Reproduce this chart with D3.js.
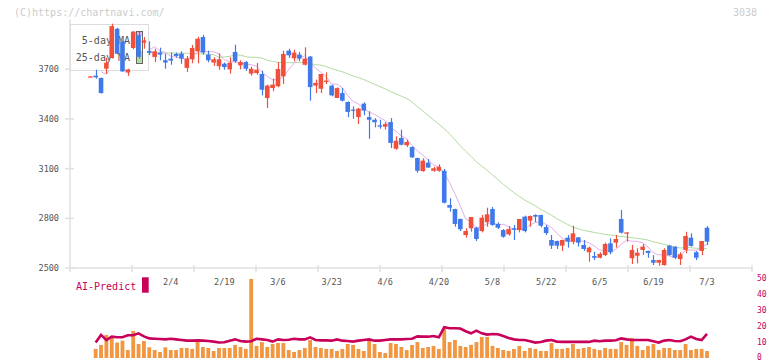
<!DOCTYPE html>
<meta charset="utf-8">
<style>
	body { margin: 0; background: #fff; }
	svg text { font-family: "DejaVu Sans Mono", monospace; }
</style>
<svg width="772" height="361"></svg>
<script src="https://d3js.org/d3.v7.min.js"></script>
<script>
	// date labels, one every 10 sessions counted back from the last candle
	var tickLabels = ['2/4', '2/19', '3/6', '3/23', '4/6', '4/20', '5/8', '5/22', '6/5', '6/19', '7/3']
	var priceTicks = [2500, 2800, 3100, 3400, 3700]
	var volTicks = [0, 10, 20, 30, 40, 50]

	var open = [3654, 3661, 3647, 3703, 3767, 3944, 3868, 3680, 3828, 3905,
		3860, 3810, 3774, 3800, 3754, 3764, 3792, 3794, 3708, 3760,
		3808, 3894, 3788, 3740, 3718, 3733, 3699, 3804, 3723, 3743,
		3673, 3677, 3671, 3526, 3586, 3597, 3657, 3812, 3766, 3788,
		3727, 3776, 3601, 3582, 3623, 3601, 3526, 3556, 3502, 3456,
		3411, 3492, 3411, 3395, 3361, 3353, 3381, 3220, 3285, 3241,
		3230, 3164, 3085, 3136, 3087, 3087, 3087, 2880, 2856, 2796,
		2699, 2740, 2743, 2723, 2776, 2856, 2766, 2729, 2703, 2740,
		2729, 2810, 2786, 2820, 2820, 2747, 2669, 2663, 2635, 2683,
		2659, 2685, 2639, 2595, 2572, 2562, 2578, 2649, 2653, 2796,
		2707, 2559, 2574, 2609, 2603, 2548, 2532, 2518, 2635, 2629,
		2554, 2609, 2683, 2595, 2603, 2743]
	var high = [3658, 3697, 3650, 3768, 3975, 3950, 3872, 3703, 3930, 3925,
		3894, 3868, 3824, 3830, 3794, 3800, 3800, 3808, 3780, 3846,
		3896, 3908, 3812, 3772, 3796, 3740, 3772, 3848, 3754, 3750,
		3715, 3737, 3691, 3607, 3643, 3743, 3812, 3824, 3818, 3804,
		3832, 3780, 3637, 3671, 3681, 3607, 3590, 3586, 3506, 3476,
		3466, 3500, 3446, 3405, 3395, 3381, 3405, 3295, 3335, 3275,
		3234, 3166, 3162, 3158, 3111, 3126, 3098, 2921, 2858, 2798,
		2740, 2808, 2749, 2820, 2864, 2868, 2776, 2735, 2753, 2760,
		2796, 2816, 2816, 2824, 2822, 2760, 2699, 2665, 2671, 2699,
		2755, 2687, 2669, 2629, 2598, 2595, 2653, 2679, 2699, 2850,
		2715, 2639, 2619, 2645, 2605, 2578, 2550, 2619, 2639, 2631,
		2595, 2719, 2709, 2603, 2663, 2753]
	var low = [3652, 3643, 3553, 3673, 3765, 3790, 3684, 3660, 3820, 3765,
		3824, 3785, 3743, 3754, 3703, 3727, 3770, 3733, 3684, 3736,
		3736, 3788, 3742, 3720, 3697, 3697, 3673, 3739, 3699, 3690,
		3661, 3667, 3542, 3466, 3567, 3591, 3610, 3768, 3748, 3748,
		3723, 3510, 3556, 3556, 3610, 3536, 3526, 3506, 3410, 3401,
		3369, 3422, 3280, 3349, 3341, 3335, 3224, 3214, 3240, 3230,
		3165, 3075, 3081, 3106, 3081, 3081, 2890, 2840, 2749, 2723,
		2683, 2719, 2663, 2715, 2749, 2755, 2735, 2683, 2695, 2669,
		2715, 2715, 2749, 2776, 2746, 2699, 2615, 2615, 2603, 2623,
		2643, 2629, 2603, 2538, 2548, 2558, 2572, 2583, 2623, 2709,
		2659, 2524, 2528, 2578, 2562, 2518, 2514, 2514, 2574, 2554,
		2518, 2589, 2629, 2548, 2578, 2639]
	var close = [3656, 3651, 3556, 3739, 3960, 3793, 3687, 3699, 3927, 3775,
		3874, 3799, 3808, 3788, 3740, 3752, 3780, 3764, 3764, 3828,
		3884, 3800, 3754, 3760, 3760, 3713, 3739, 3748, 3743, 3703,
		3703, 3697, 3576, 3601, 3607, 3701, 3792, 3784, 3800, 3764,
		3764, 3592, 3617, 3671, 3631, 3542, 3586, 3510, 3442, 3450,
		3462, 3450, 3395, 3380, 3353, 3369, 3255, 3268, 3244, 3261,
		3168, 3087, 3148, 3106, 3102, 3111, 2894, 2864, 2766, 2734,
		2723, 2808, 2675, 2804, 2824, 2760, 2743, 2689, 2735, 2731,
		2796, 2723, 2814, 2810, 2755, 2711, 2635, 2635, 2669, 2659,
		2709, 2653, 2615, 2623, 2562, 2585, 2645, 2595, 2675, 2713,
		2715, 2609, 2592, 2629, 2591, 2532, 2548, 2609, 2578, 2562,
		2583, 2693, 2633, 2562, 2663, 2659]

	// volume (x 10,000 shares)
	var volume = [null, 5.7, 8.2, 14.5, 13, 9.7, 10.9, 5, 17, 8.8,
		10.7, 6.7, 5, 3.8, 6.7, 5, 5, 6.3, 6.3, 5.7,
		10.5, 6.9, 6.3, 4.4, 6.3, 6.3, 6.3, 8.2, 6.9, 5.7,
		49.7, 7.6, 10, 6.9, 8.8, 9.4, 9.4, 5, 3.8, 5,
		6.3, 11.3, 6.9, 6.3, 5.7, 5.7, 4.4, 5.7, 8.8, 8.2,
		5.7, 4.4, 10.7, 8.8, 3.8, 3.1, 9.4, 8.8, 6.9, 5,
		8.2, 10, 6.3, 6.9, 7.6, 5.7, 18.2, 10, 11.3, 7.6,
		6.9, 8.2, 10, 13.2, 13.2, 7.6, 6.3, 5, 4.4, 5.7,
		7.6, 4.4, 6.3, 5.7, 4.4, 4.4, 9.4, 5.7, 5.7, 6.3,
		8.8, 5.7, 6.3, 6.9, 5.7, 5, 6.3, 5.7, 5.7, 10,
		8.2, 12.6, 7.6, 5, 7.6, 8.8, 5, 6.3, 6.3, 5,
		5, 8.8, 5, 5.7, 5.7, 4.4]
	var aiPredict = [null, 9.7, 14.5, 11.3, 13.4, 13.0, 13.0, 14.3, 14.3, 15.5,
		13.6, 12.3, 12.1, 11.9, 11.7, 12.1, 11.7, 11.3, 10.9, 10.9,
		11.1, 10.9, 10.7, 10.3, 9.7, 9.9, 10.9, 11.7, 10.7, 10.3,
		10.5, 12.1, 11.7, 11.3, 10.3, 11.7, 11.3, 11.5, 12.1, 11.7,
		11.7, 13.0, 11.3, 11.1, 11.1, 10.9, 11.7, 10.9, 10.7, 10.3,
		10.9, 11.3, 11.7, 10.9, 10.9, 11.3, 11.7, 11.7, 11.7, 11.9,
		12.1, 13.6, 13.4, 13.4, 13.8, 13.0, 19.3, 18.7, 18.7, 18.5,
		16.8, 15.5, 17.2, 15.5, 14.7, 15.1, 14.9, 13.8, 12.6, 11.7,
		11.3, 11.3, 10.5, 9.7, 10.1, 10.9, 11.3, 10.3, 10.1, 10.1,
		10.1, 10.1, 10.1, 10.1, 10.9, 10.5, 10.9, 10.9, 11.1, 12.3,
		11.7, 11.3, 11.3, 11.3, 11.3, 10.5, 9.7, 10.9, 11.3, 10.7,
		10.5, 11.7, 13.4, 11.9, 11.3, 15.1]

	// moving averages where the window reaches before the first candle
	var ma5Head = [null, null, 3685, 3670]
	var ma25Head = [null, null, null, null, null, null, null, null, null, null, null,
		3800, 3799, 3799, 3798, 3798, 3797, 3797, 3796, 3795, 3793, 3792, 3790, 3788]

	var n = close.length
	var candles = d3.range(n).map(function (i) {
		return { i: i, o: open[i], h: high[i], l: low[i], c: close[i] }
	})

	function movingAvg(len, head) {
		return d3.range(n).map(function (i) {
			if (i < len - 1) return { i: i, v: head[i] }
			return { i: i, v: d3.mean(close.slice(i - len + 1, i + 1)) }
		})
	}
	var ma5 = movingAvg(5, ma5Head),
		ma25 = movingAvg(25, ma25Head)

	var svg = d3.select('svg')
	var axisColor = '#e0e0e0',
		upColor = '#f04f3c',
		downColor = '#3f79ea',
		volColor = '#f19641',
		aiColor = '#c8005a'

	var plotLeft = 70, plotRight = 752, plotBottom = 268

	var x = d3.scaleLinear().domain([0, n - 1]).range([90.3, 707])
	var y = d3.scaleLinear().domain([2500, 4000]).range([plotBottom, 19.5])
	var yv = d3.scaleLinear().domain([0, 50]).range([358, 278.4])

	// watermark + code
	svg.append('text').attr('x', 14).attr('y', 16)
		.attr('font-size', '10px').attr('fill', '#cccccc')
		.text('(C)https://chartnavi.com/')
	svg.append('text').attr('x', 757).attr('y', 16)
		.attr('text-anchor', 'end')
		.attr('font-size', '10px').attr('fill', '#cccccc')
		.text('3038')

	// axes
	var ax = svg.append('g').attr('stroke', axisColor).attr('stroke-width', 1.5)
	ax.append('line').attr('x1', plotLeft).attr('x2', plotLeft)
		.attr('y1', 19.5).attr('y2', plotBottom)
	ax.append('line').attr('x1', plotLeft).attr('x2', plotRight)
		.attr('y1', plotBottom).attr('y2', plotBottom)
	ax.selectAll('.ytick').data(priceTicks).enter().append('line')
		.attr('x1', 65).attr('x2', 74)
		.attr('y1', function (d) { return y(d) }).attr('y2', function (d) { return y(d) })
	ax.selectAll('.xtick').data(d3.range(12)).enter().append('line')
		.attr('x1', function (k) { return plotLeft + k * (plotRight - plotLeft) / 11 })
		.attr('x2', function (k) { return plotLeft + k * (plotRight - plotLeft) / 11 })
		.attr('y1', 265).attr('y2', 272)

	svg.append('g').selectAll('text').data(priceTicks).enter().append('text')
		.attr('x', 59).attr('y', function (d) { return y(d) }).attr('dy', '0.35em')
		.attr('text-anchor', 'end').attr('font-size', '8.5px').attr('fill', '#555')
		.text(function (d) { return d })

	svg.append('g').selectAll('text').data(tickLabels).enter().append('text')
		.attr('x', function (d, k) { return x(n - 1 - 10 * (tickLabels.length - 1 - k)) })
		.attr('y', 282).attr('dy', '0.35em')
		.attr('text-anchor', 'middle').attr('font-size', '8.5px').attr('fill', '#555')
		.text(function (d) { return d })

	// volume scale labels: baseline just under the value so "0" stays inside the picture
	svg.append('g').selectAll('text').data(volTicks).enter().append('text')
		.attr('x', 757).attr('y', function (d) { return Math.min(yv(d) + 2.6, 359.5) })
		.attr('font-size', '8px').attr('fill', aiColor)
		.text(function (d) { return d })

	// moving averages
	var maLine = d3.line()
		.defined(function (d) { return d.v != null })
		.x(function (d) { return x(d.i) })
		.y(function (d) { return y(d.v) })
	svg.append('path').attr('d', maLine(ma25))
		.attr('fill', 'none').attr('stroke', '#b3dba2').attr('stroke-width', 1)
	svg.append('path').attr('d', maLine(ma5))
		.attr('fill', 'none').attr('stroke', '#e6aeea').attr('stroke-width', 1)

	// legend box (candles are painted over it)
	var lg = svg.append('g')
	lg.append('rect').attr('x', 70.5).attr('y', 24.5).attr('width', 78).attr('height', 46)
		.attr('fill', '#fff').attr('stroke', '#dddddd')
	lg.append('text').attr('x', 130).attr('y', 43.5).attr('text-anchor', 'end')
		.attr('font-size', '10px').attr('fill', '#555').text('5-day MA')
	lg.append('text').attr('x', 130).attr('y', 61).attr('text-anchor', 'end')
		.attr('font-size', '10px').attr('fill', '#555').text('25-day MA')
	lg.append('rect').attr('x', 136.5).attr('y', 31.5).attr('width', 6).attr('height', 32)
		.attr('fill', '#fff').attr('stroke', '#666')
	lg.append('rect').attr('x', 137).attr('y', 32).attr('width', 5).attr('height', 4)
		.attr('fill', '#e6aeea')
	lg.append('rect').attr('x', 137).attr('y', 51).attr('width', 5).attr('height', 12)
		.attr('fill', '#b3dba2')

	// candles
	var bodyW = 4.6
	var cg = svg.append('g').selectAll('g').data(candles).enter().append('g')
	cg.append('line')
		.attr('x1', function (d) { return Math.round(x(d.i)) + 0.5 })
		.attr('x2', function (d) { return Math.round(x(d.i)) + 0.5 })
		.attr('y1', function (d) { return y(d.h) })
		.attr('y2', function (d) { return y(d.l) })
		.attr('stroke', function (d) { return d.c >= d.o ? upColor : downColor })
		.attr('stroke-width', 1.2)
	cg.append('rect')
		.attr('x', function (d) { return x(d.i) - bodyW / 2 })
		.attr('width', bodyW)
		.attr('y', function (d) { return y(Math.max(d.o, d.c)) })
		.attr('height', function (d) { return Math.max(1.2, Math.abs(y(d.o) - y(d.c))) })
		.attr('fill', function (d) { return d.c >= d.o ? upColor : downColor })

	// AI-Predict panel
	svg.append('text').attr('x', 76).attr('y', 290)
		.attr('font-size', '10px').attr('fill', aiColor).text('AI-Predict')
	svg.append('rect').attr('x', 142).attr('y', 277.3).attr('width', 6.7).attr('height', 15.4)
		.attr('fill', aiColor)

	svg.append('g').selectAll('rect')
		.data(volume.map(function (v, i) { return { i: i, v: v } }).filter(function (d) { return d.v != null }))
		.enter().append('rect')
		.attr('x', function (d) { return x(d.i) - 1.9 })
		.attr('width', 3.8)
		.attr('y', function (d) { return yv(d.v) })
		.attr('height', function (d) { return yv(0) - yv(d.v) })
		.attr('fill', volColor)

	var aiLine = d3.line()
		.defined(function (d) { return d.v != null })
		.x(function (d) { return x(d.i) })
		.y(function (d) { return yv(d.v) })
	svg.append('path')
		.attr('d', aiLine(aiPredict.map(function (v, i) { return { i: i, v: v } })))
		.attr('fill', 'none').attr('stroke', aiColor).attr('stroke-width', 2.6)
</script>
